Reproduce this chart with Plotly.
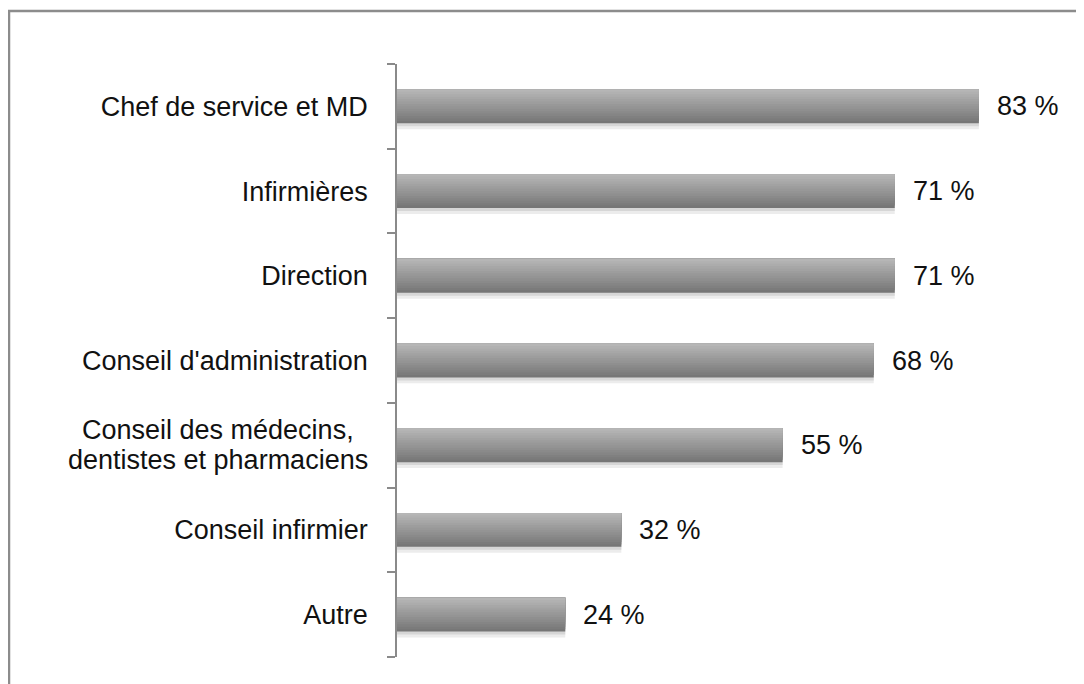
import plotly.graph_objects as go

categories = [
    "Chef de service et MD",
    "Infirmières",
    "Direction",
    "Conseil d'administration",
    "Conseil des médecins,<br>dentistes et pharmaciens",
    "Conseil infirmier",
    "Autre",
]
values = [83, 71, 71, 68, 55, 32, 24]
value_labels = ["83 %", "71 %", "71 %", "68 %", "55 %", "32 %", "24 %"]

FONT = "Liberation Sans, Arial, sans-serif"
FS = 27
TXT = "#111111"
BAR_W = 0.40
N_LAYERS = 14
dark = (118, 118, 118)
light = (182, 182, 182)

# page has an 8px body margin; coordinates below are figure pixels
plot_left, plot_top, plot_bottom = 389, 56, 649
x_max = 95
plot_w = 666
plot_h = plot_bottom - plot_top
label_gap = 29          # distance from axis line to right edge of the two-line label block
block_half_width = 150  # half width of the two-line label block (centred lines)

fig = go.Figure()

fig.add_trace(go.Bar(
    y=categories, x=values, orientation="h",
    offset=-BAR_W / 2 + 0.02, width=BAR_W + 0.05,
    marker=dict(color="#ececec", line=dict(width=0)),
    hoverinfo="skip", showlegend=False,
))
fig.add_trace(go.Bar(
    y=categories, x=values, orientation="h",
    offset=-BAR_W / 2 + 0.01, width=BAR_W + 0.025,
    marker=dict(color="#d6d6d6", line=dict(width=0)),
    hoverinfo="skip", showlegend=False,
))

for i in range(N_LAYERS):
    t = i / (N_LAYERS - 1)
    c = tuple(round(dark[k] + (light[k] - dark[k]) * t) for k in range(3))
    fig.add_trace(go.Bar(
        y=categories, x=values, orientation="h",
        offset=-BAR_W / 2, width=BAR_W * (N_LAYERS - i) / N_LAYERS,
        marker=dict(color="rgb(%d,%d,%d)" % c, line=dict(width=0)),
        hoverinfo="skip", showlegend=False,
    ))

for cat, v, lab in zip(categories, values, value_labels):
    fig.add_annotation(
        x=v, y=cat, text=lab, showarrow=False,
        xanchor="left", yanchor="middle", xshift=16,
        font=dict(family=FONT, size=FS, color=TXT),
    )

# category labels: single-line ones as tick text, multi-line drawn centred with tighter spacing
tick_text = []
for cat in categories:
    if "<br>" in cat:
        tick_text.append("")
        lines = cat.split("<br>")
        n = len(lines)
        for j, line in enumerate(lines):
            fig.add_annotation(
                xref="paper", x=0, y=cat, text=line, showarrow=False,
                xanchor="center", yanchor="middle",
                xshift=-label_gap - block_half_width,
                yshift=(-(j - (n - 1) / 2)) * 30,
                font=dict(family=FONT, size=FS, color=TXT),
            )
    else:
        tick_text.append(cat)

fig.add_shape(
    type="rect", xref="paper", yref="paper",
    x0=(1 - plot_left) / plot_w, x1=(1095 - plot_left) / plot_w,
    y0=(plot_bottom - 695) / plot_h, y1=(plot_bottom - 3) / plot_h,
    line=dict(color="#8c8c8c", width=2.5), fillcolor="rgba(0,0,0,0)", layer="below",
)

fig.update_layout(
    width=1084, height=684,
    margin=dict(l=plot_left, r=1084 - plot_left - plot_w, t=plot_top, b=684 - plot_bottom, pad=0),
    paper_bgcolor="white", plot_bgcolor="white",
    barmode="overlay",
    showlegend=False,
    font=dict(family=FONT, size=FS, color=TXT),
    xaxis=dict(range=[0, x_max], visible=False, fixedrange=True),
    yaxis=dict(
        categoryorder="array", categoryarray=categories, autorange="reversed",
        tickmode="array", tickvals=categories, ticktext=tick_text,
        showline=True, linecolor="#8a8a8a", linewidth=1.5,
        ticks="outside", ticklen=8, tickcolor="#8a8a8a", tickwidth=1.5,
        tickson="boundaries", showgrid=False, zeroline=False,
        ticklabelstandoff=22,
        tickfont=dict(family=FONT, size=FS, color=TXT),
    ),
)

fig.write_html("out.html")
